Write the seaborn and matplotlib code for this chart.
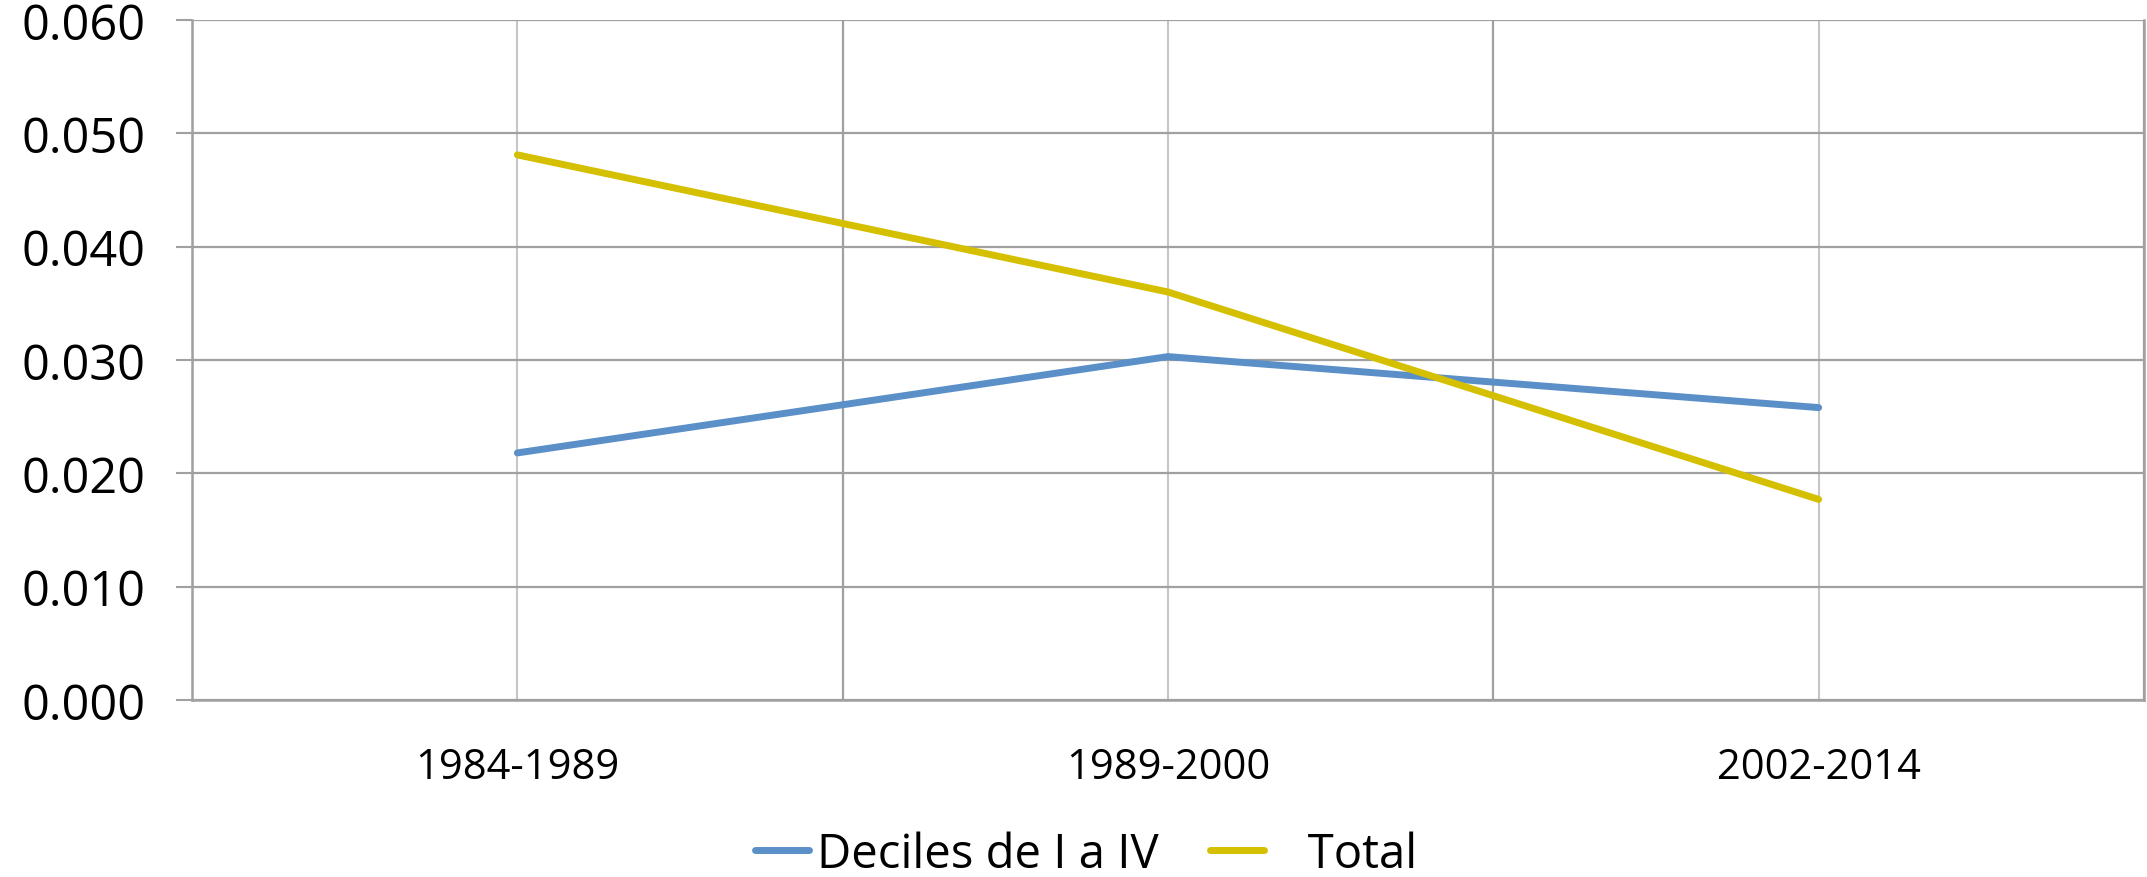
import matplotlib
matplotlib.use("Agg")
import matplotlib.pyplot as plt
import seaborn as sns
import pandas as pd
from matplotlib.ticker import FixedLocator, FormatStrFormatter

# ---- data ----
periods = ["1984-1989", "1989-2000", "2002-2014"]
deciles_I_IV = [0.0218, 0.0303, 0.0258]
total = [0.0481, 0.0360, 0.0177]
series_names = ["Deciles de I a IV", "   Total"]
y_ticks = [0.000, 0.010, 0.020, 0.030, 0.040, 0.050, 0.060]

df = pd.DataFrame({
    "x": list(range(len(periods))) * 2,
    "value": deciles_I_IV + total,
    "serie": [series_names[0]] * len(periods) + [series_names[1]] * len(periods),
})

sns.set_style("white")
plt.rcParams["font.family"] = ["Open Sans", "DejaVu Sans"]
plt.rcParams["text.color"] = "black"
plt.rcParams["xtick.labelcolor"] = "black"
plt.rcParams["ytick.labelcolor"] = "black"

dark = "#A0A0A0"
light = "#C6C6C6"
palette = {series_names[0]: "#5B8FC8", series_names[1]: "#D4BF00"}

fig = plt.figure(figsize=(21.47, 8.78), dpi=100)
ax = fig.add_axes([192 / 2147, 1 - 701 / 878, (2144 - 192) / 2147, (701 - 21) / 878])

sns.lineplot(data=df, x="x", y="value", hue="serie", palette=palette, ax=ax,
             linewidth=5.0, legend=True, sort=False)
for ln in ax.get_lines():
    ln.set_solid_capstyle("round")
    ln.set_zorder(5)

ax.set_xlim(-0.5, len(periods) - 0.5)
ax.set_ylim(0, 0.060)

ax.set_xticks(range(len(periods)))
ax.set_xticklabels(periods, fontsize=30, color="black")
ax.xaxis.set_minor_locator(FixedLocator([i - 0.5 for i in range(len(periods) + 1)]))
ax.tick_params(axis="x", which="both", length=0, pad=33)

ax.set_yticks(y_ticks)
ax.yaxis.set_major_formatter(FormatStrFormatter("%.3f"))
ax.tick_params(axis="y", which="major", length=11.5, width=1.5, color=dark,
               labelsize=35, pad=22, left=True, labelcolor="black")

ax.grid(False)
ax.xaxis.grid(True, which="major", color=light, linewidth=1.5)
ax.xaxis.grid(True, which="minor", color=dark, linewidth=1.6)
ax.yaxis.grid(True, which="major", color=dark, linewidth=1.6)
ax.set_axisbelow(True)

for side in ["left", "bottom", "right"]:
    ax.spines[side].set_visible(True)
    ax.spines[side].set_color(dark)
    ax.spines[side].set_linewidth(1.8)
ax.spines["top"].set_visible(False)

ax.set_xlabel("")
ax.set_ylabel("")

handles, labels = ax.get_legend_handles_labels()
ax.get_legend().remove()
for h in handles:
    h.set_linewidth(5.0)
    h.set_solid_capstyle("round")
leg = fig.legend(handles, labels, loc="center", bbox_to_anchor=(0.506, 0.026), ncol=2,
                 frameon=False, fontsize=34, handlelength=1.15, handletextpad=0.15,
                 columnspacing=1.1, borderpad=0)
for t in leg.get_texts():
    t.set_color("black")

fig.savefig("out.png", dpi=100)
